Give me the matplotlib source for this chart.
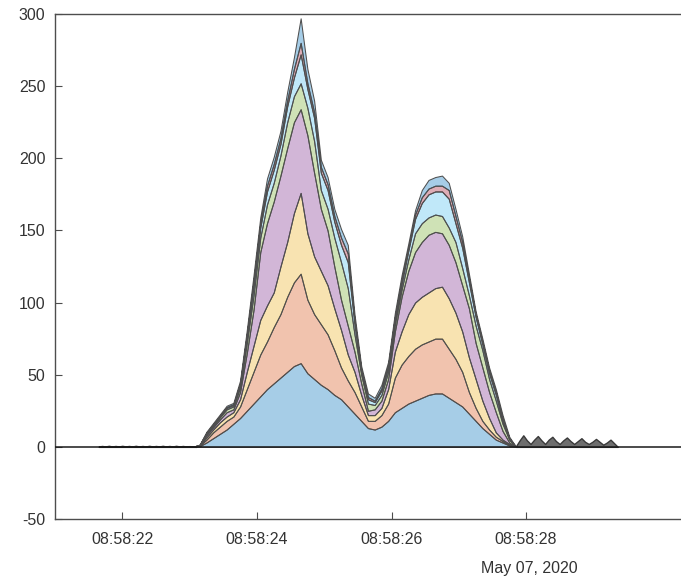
import numpy as np
import matplotlib
matplotlib.use("Agg")
import matplotlib.pyplot as plt
import matplotlib.dates as mdates

############################### Donnees
jour = np.datetime64("2020-05-07T08:58:00")

# grille principale : 08:58:23.05 -> 08:58:27.85, pas de 0.1 s
t_debut, pas = 23.05, 0.1
couche_1 = [0, 0.5, 3, 6, 9, 12, 16, 20, 25, 30, 35, 40, 44, 48, 52, 56, 58, 51, 47, 43,
            40, 36, 33, 28, 23, 18, 13, 12, 14, 18, 24, 27, 30, 32, 34, 36, 37, 37, 34, 31,
            28, 23, 18, 13, 9, 5, 3, 1, 0]
couche_2 = [0, 0.3, 2, 4, 5, 6, 5, 8, 15, 22, 29, 33, 39, 44, 52, 58, 62, 51, 45, 42,
            38, 31, 22, 18, 15, 10, 5, 6, 8, 12, 24, 30, 33, 36, 37, 37, 38, 38, 34, 30,
            24, 15, 9, 5, 3, 2, 1, 0.2, 0]
couche_3 = [0, 0.2, 1.5, 2, 3, 3, 3, 5, 12, 18, 24, 25, 24, 33, 38, 48, 56, 46, 40, 37,
            34, 29, 26, 18, 14, 8, 4, 4, 5, 10, 18, 23, 29, 32, 33, 34, 35, 36, 35, 32,
            28, 24, 20, 14, 8, 3, 1, 0.8, 0]
couche_4 = [0, 0.2, 1.5, 1.5, 2, 3, 2, 5, 13, 25, 47, 57, 63, 63, 65, 63, 58, 68, 58, 43,
            38, 29, 21, 20, 14, 8, 3, 4, 5, 7, 14, 24, 30, 35, 38, 40, 39, 37, 37, 35,
            32, 34, 25, 23, 18, 14, 6, 1, 0]
couche_5 = [0, 0.1, 1, 1, 1.5, 2, 2, 3, 7, 10, 10, 13, 13, 14, 18, 18, 18, 19, 22, 13,
            15, 20, 26, 26, 12, 6, 5, 3, 4, 5, 5, 5, 8, 13, 13, 12, 12, 12, 12, 14,
            12, 9, 12, 12, 9, 8, 5, 2, 0]
couche_6 = [0, 0.1, 0.5, 0.7, 0.7, 1, 1, 2, 4, 7, 7, 9, 9, 8, 11, 13, 20, 13, 16, 12,
            13, 11, 12, 18, 7, 2, 3, 2, 3, 3, 3, 4, 6, 10, 14, 16, 16, 17, 20, 13,
            14, 9, 6, 4, 4, 4, 2, 0.5, 0]
couche_7 = [0, 0.1, 0.3, 0.4, 0.4, 0.5, 0.5, 1, 2, 3, 3, 4, 4, 4, 4, 6, 8, 4, 4, 4,
            4, 4, 5, 6, 3, 1.5, 1.5, 1, 1.5, 1.5, 2, 3, 2, 3, 4, 4, 4, 4, 6, 5,
            4, 3, 2, 2, 2, 2, 2, 0.5, 0]
couche_8 = [0, 0.1, 0.7, 0.9, 0.9, 1, 1, 2, 3, 4, 4, 5, 5, 5, 6, 8, 17, 10, 8, 5,
            5, 5, 6, 6, 4, 2.5, 2.5, 2, 2.5, 2.5, 3, 3, 3, 3, 5, 6, 6, 7, 5, 5,
            4, 3, 2, 2, 2, 2, 2, 1, 0]

# petites oscillations avant et apres l'evenement
t_avant, pas_avant = 21.65, 0.05
niveau_avant = [0.3, 0.6, 0.3, 0.7, 0.3, 0.6, 0.3, 0.7, 0.3, 0.6, 0.3, 0.7, 0.3, 0.6, 0.3,
                0.7, 0.3, 0.6, 0.3, 0.7, 0.3, 0.6, 0.3, 0.7, 0.3, 0.6, 0.3, 0.5, 0.2, 0]
t_apres, pas_apres = 27.85, 0.054
niveau_apres = [0.5, 4.5, 8, 4.5, 2, 5, 7.5, 4.5, 2, 5, 7, 4, 2, 4.5, 6.5, 4,
                2, 4, 6, 3.5, 2, 3.5, 5.5, 3.5, 1.5, 3, 5, 2.5, 0]

couches = [couche_1, couche_2, couche_3, couche_4, couche_5, couche_6, couche_7, couche_8]

# couleurs par defaut de MATLAB (cycle)
couleurs_matlab = [(0, 0.447, 0.741), (0.85, 0.325, 0.098), (0.929, 0.694, 0.125),
                   (0.494, 0.184, 0.556), (0.466, 0.674, 0.188), (0.301, 0.745, 0.933),
                   (0.635, 0.078, 0.184)]
secondes_ticks = [22, 24, 26, 28]


def en_dates(t0, dt, n):
    secondes = t0 + dt * np.arange(n)
    return jour + (secondes * 1000).round().astype("timedelta64[ms]")


################################ Figure
plt.rcParams["font.family"] = ["Liberation Sans", "DejaVu Sans"]
plt.rcParams["axes.unicode_minus"] = False
fig = plt.figure(figsize=(6.81, 5.79), dpi=100)
ax = fig.add_axes([55 / 681, 60 / 579, 629 / 681, 505 / 579])

x = en_dates(t_debut, pas, len(couche_1))
faces = [couleurs_matlab[i % 7] + (0.35,) for i in range(len(couches))]
ax.stackplot(x, np.array(couches), colors=faces, edgecolor="#4f4f4f", linewidth=0.75, zorder=2)

x_avant = en_dates(t_avant, pas_avant, len(niveau_avant))
ax.fill_between(x_avant, 0, niveau_avant, facecolor="#444444", edgecolor="#222222",
                linewidth=1.0, zorder=2)
x_apres = en_dates(t_apres, pas_apres, len(niveau_apres))
ax.fill_between(x_apres, 0, niveau_apres, facecolor="#6e6e6e", edgecolor="#3a3a3a",
                linewidth=1.0, zorder=2)

ax.axhline(0, color="#1a1a1a", linewidth=1.1, zorder=3)

ax.set_ylim(-50, 300)
ax.set_yticks(np.arange(-50, 301, 50))
ax.set_xlim(jour + np.timedelta64(21000, "ms"), jour + np.timedelta64(30346, "ms"))
ax.xaxis.set_major_locator(mdates.SecondLocator(bysecond=secondes_ticks))
ax.xaxis.set_major_formatter(mdates.DateFormatter("%H:%M:%S"))

for s in ax.spines.values():
    s.set_color("#4d4d4d")
    s.set_linewidth(1.0)
ax.tick_params(direction="in", length=5, width=0.8, color="#4d4d4d",
               labelsize=11.5, labelcolor="#333333", pad=7)
ax.tick_params(axis="x", pad=9)

fig.text(578 / 681, (579 - 568) / 579, "May 07, 2020", ha="right", va="center",
         fontsize=11.5, color="#333333")

fig.savefig("out.png", dpi=100)
